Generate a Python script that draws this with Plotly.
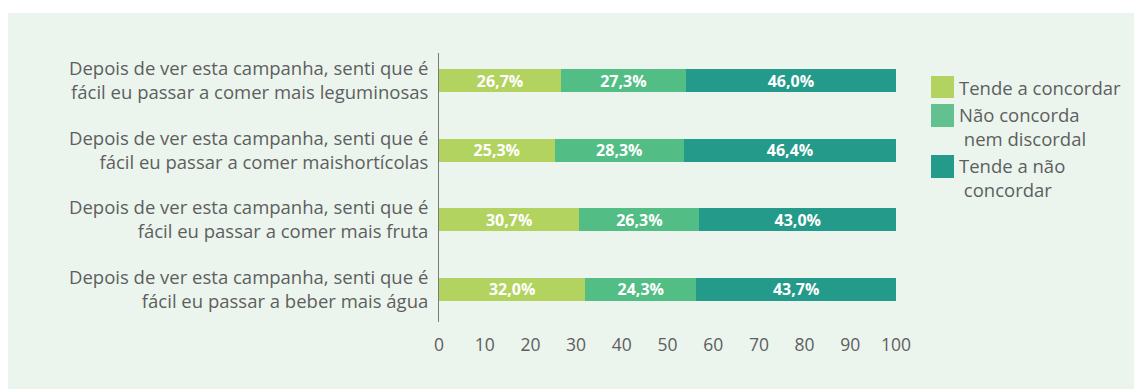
import plotly.graph_objects as go

# Statements (top to bottom) and answer shares in percent
categories = [
    "Depois de ver esta campanha, senti que é<br>fácil eu passar a comer mais leguminosas",
    "Depois de ver esta campanha, senti que é<br>fácil eu passar a comer maishortícolas",
    "Depois de ver esta campanha, senti que é<br>fácil eu passar a comer mais fruta",
    "Depois de ver esta campanha, senti que é<br>fácil eu passar a beber mais água",
]
tende_concordar = [26.7, 25.3, 30.7, 32.0]
nem_nem = [27.3, 28.3, 26.3, 24.3]
tende_nao_concordar = [46.0, 46.4, 43.0, 43.7]

series_names = ["Tende a concordar", "Não concorda<br> nem discordal", "Tende a não<br> concordar"]
series_values = [tende_concordar, nem_nem, tende_nao_concordar]
bar_colors = ["#B2D360", "#52BD84", "#249B8A"]
swatch_colors = ["#B2D360", "#62C18F", "#249B8A"]
x_ticks = [0, 10, 20, 30, 40, 50, 60, 70, 80, 90, 100]

W, H = 1134, 389
L, R, T, B = 439, 238, 53, 67
PW, PH = W - L - R, H - T - B

def px(x):
    return (x - L) / PW

def py(y):
    return (H - B - y) / PH

TEXT = "#5E5E5E"
FONT = "Open Sans"

fig = go.Figure()
for name, vals, col in zip(series_names, series_values, bar_colors):
    fig.add_trace(go.Bar(
        y=categories, x=vals, name=name, orientation="h",
        marker=dict(color=col, line=dict(width=0)),
        width=0.33,
        texttemplate="<b>%{x:.1f}%</b>",
        textposition="inside", insidetextanchor="middle", textangle=0,
        constraintext="none",
        textfont=dict(family=FONT, size=16, color="white"),
        hoverinfo="skip",
    ))

shapes = [dict(type="rect", xref="paper", yref="paper", layer="below",
               x0=px(8), x1=px(W), y0=py(H), y1=py(13),
               fillcolor="#EBF5EE", line=dict(width=0))]
annotations = []
# legend: swatches and labels
legend_rows = [(76, 98, [87]), (104, 127, [115, 137]), (155, 178, [166, 189])]
for (y0, y1, lines), name, col in zip(legend_rows, series_names, swatch_colors):
    shapes.append(dict(type="rect", xref="paper", yref="paper",
                       x0=px(931), x1=px(954), y0=py(y1), y1=py(y0),
                       fillcolor=col, line=dict(width=0)))
    annotations.append(dict(xref="paper", yref="paper", x=px(957),
                            y=py((lines[0] + lines[-1]) / 2),
                            xanchor="left", yanchor="middle", align="left",
                            text=name, showarrow=False,
                            font=dict(family=FONT, size=18.5, color=TEXT)))

fig.update_layout(
    width=W, height=H, barmode="stack", separators=",.",
    margin=dict(l=L, r=R, t=T, b=B),
    paper_bgcolor="white", plot_bgcolor="rgba(0,0,0,0)",
    showlegend=False, shapes=shapes, annotations=annotations,
    font=dict(family=FONT, size=18.5, color=TEXT),
    xaxis=dict(range=[0, 100], tickvals=x_ticks, showgrid=False, zeroline=False,
               showline=False, ticks="outside", ticklen=7,
               tickcolor="rgba(0,0,0,0)",
               tickfont=dict(family=FONT, size=17.5, color=TEXT)),
    yaxis=dict(range=[3.471, -0.396], showgrid=False, zeroline=False,
               showline=True, linecolor="#7A7A7A", linewidth=1,
               ticks="outside", ticklen=6, tickcolor="rgba(0,0,0,0)",
               tickfont=dict(family=FONT, size=18.5, color=TEXT)),
)

fig.write_html("out.html")
